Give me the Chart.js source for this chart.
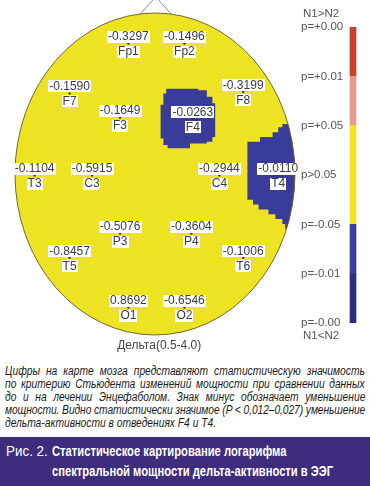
<!DOCTYPE html>
<html>
<head>
<meta charset="utf-8">
<script src="https://cdn.jsdelivr.net/npm/chart.js@4.4.0/dist/chart.umd.min.js"></script>
<style>
body { margin: 0; width: 370px; height: 486px; overflow: hidden; background: #fff; position: relative; }
#mapa { position: absolute; left: 0; top: 0; }
#escala { position: absolute; left: 290px; top: 0; }
#texto { position: absolute; left: 5px; top: 365px; width: 439px; color: #1a1a1a;
  transform: scaleX(0.82); transform-origin: 0 0;
  font: italic 12.5px/13px "Liberation Sans", Arial, sans-serif; }
#texto div { white-space: nowrap; }
#texto span { display: inline-block; }
#rotulo { position: absolute; left: 0; top: 437px; width: 370px; height: 49px; background: #3e2c7c; color: #fff;
  font: 15px/19px "Liberation Sans", Arial, sans-serif; }
#rotulo span { position: absolute; white-space: nowrap; transform-origin: 0 0; }
#rotulo .num { left: 6px; top: 4px; }
#rotulo .tit { left: 52px; font-weight: bold; }
</style>
</head>
<body>
<canvas id="mapa" width="370" height="356"></canvas>
<canvas id="escala" width="80" height="350"></canvas>
<div id="texto">
  <div><span>Цифры на карте мозга представляют статистическую значимость</span></div>
  <div><span>по критерию Стьюдента изменений мощности при сравнении данных</span></div>
  <div><span>до и на лечении Энцефаболом. Знак минус обозначает уменьшение</span></div>
  <div><span>мощности. Видно статистически значимое (P &lt; 0,012–0,027) уменьшение</span></div>
  <div><span>дельта-активности в отведениях F4 и T4.</span></div>
</div>
<div id="rotulo">
  <span class="num" id="num">Рис. 2.</span>
  <span class="tit" id="tit1" style="top:4px">Статистическое картирование логарифма</span>
  <span class="tit" id="tit2" style="top:24px">спектральной мощности дельта-активности в ЭЭГ</span>
</div>
<script>
// electrodos (coordenadas de cabeza, radio = 100)
const electrodos = ["Fp1", "Fp2", "F7", "F3", "F4", "F8", "T3", "C3", "C4", "T4", "P3", "P4", "T5", "T6", "O1", "O2"];
const valores = [-0.3297, -0.1496, -0.1590, -0.1649, -0.0263, -0.3199, -0.1104, -0.5915, -0.2944, -0.0110, -0.5076, -0.3604, -0.8457, -0.1006, 0.8692, -0.6546];
const posX = [-19, 21, -61, -25, 27, 63, -86, -45, 46, 88, -25, 26, -61, 63, -19, 21];
const posY = [81, 81, 50, 35, 34, 51, -1, -1, -1, -1, -37, -37, -52, -52, -83, -83];

// zonas significativas (p < 0.05, N1<N2)
const zonaF4X = [8, 31, 31, 37, 37, 41, 41, 43, 43, 41, 41, 37, 37, 25, 25, 9, 9, 6, 6, 4, 4, 6, 6, 8];
const zonaF4Y = [53, 53, 52, 52, 48, 48, 44, 44, 23, 23, 20, 20, 19, 19, 16, 16, 18, 18, 22, 22, 43, 43, 50, 50];
const zonaT4X = [110, 91, 91, 88, 88, 84, 84, 75, 75, 66, 66, 70, 70, 74, 74, 81, 81, 86, 86, 91, 91, 93, 93, 110];
const zonaT4Y = [31, 31, 29, 29, 26, 26, 23, 23, 20, 20, -16, -16, -19, -19, -22, -22, -25, -25, -28, -28, -31, -31, -34, -34];

const narizX = [-11, 0.5, 12];
const narizY = [99, 110, 99];

// escala de colores
const etiquetasP = ["p=-0.00", "p=-0.01", "p=-0.05", "p>0.05", "p=+0.05", "p=+0.01", "p=+0.00"];
const tramos = [1, 1, 2, 1, 1];
const coloresTramos = ["#2f2c7c", "#3b3f9c", "#f2e41e", "#e89a8c", "#c9402b"];

const AMARILLO = "#eee323";
const AZUL = "#393c98";

function puntos(xs, ys) {
    return xs.map((x, i) => ({ x: x, y: ys[i] }));
}

const cabeza = {
    id: "cabeza",
    beforeDatasetsDraw(chart) {
        const ctx = chart.ctx, sx = chart.scales.x, sy = chart.scales.y;
        const cx = sx.getPixelForValue(0), cy = sy.getPixelForValue(0);
        const rx = sx.getPixelForValue(100) - cx, ry = cy - sy.getPixelForValue(100);
        ctx.save();
        // nariz
        ctx.strokeStyle = "#8c8c84";
        ctx.lineWidth = 1;
        ctx.beginPath();
        narizX.forEach((x, i) => {
            const px = sx.getPixelForValue(x), py = sy.getPixelForValue(narizY[i]);
            if (i == 0) ctx.moveTo(px, py); else ctx.lineTo(px, py);
        });
        ctx.stroke();
        // cabeza
        ctx.beginPath();
        ctx.ellipse(cx, cy, rx, ry, 0, 0, Math.PI * 2);
        ctx.fillStyle = AMARILLO;
        ctx.fill();
        ctx.save();
        ctx.clip();
        ctx.fillStyle = AZUL;
        for (let d = 1; d < chart.data.datasets.length; d++) {
            const pts = chart.getDatasetMeta(d).data;
            ctx.beginPath();
            pts.forEach((p, i) => { if (i == 0) ctx.moveTo(p.x, p.y); else ctx.lineTo(p.x, p.y); });
            ctx.closePath();
            ctx.fill();
        }
        ctx.restore();
        ctx.beginPath();
        ctx.ellipse(cx, cy, rx, ry, 0, 0, Math.PI * 2);
        ctx.strokeStyle = "#6f6733";
        ctx.stroke();
        ctx.restore();
    },
    afterDatasetsDraw(chart) {
        const ctx = chart.ctx, sx = chart.scales.x, sy = chart.scales.y;
        const pts = chart.getDatasetMeta(0).data;
        ctx.save();
        ctx.font = "12px 'Liberation Sans', Arial, sans-serif";
        ctx.textAlign = "center";
        ctx.textBaseline = "middle";
        const caja = (txt, x, y) => {
            const w = ctx.measureText(txt).width;
            ctx.fillStyle = "#fff";
            ctx.fillRect(Math.round(x - w / 2 - 1), Math.round(y - 6), Math.round(w + 2), 12);
            ctx.fillStyle = "#3c3c3c";
            ctx.fillText(txt, x, y + 0.5);
        };
        pts.forEach((p, i) => {
            caja(valores[i].toFixed(4), p.x, p.y - 7);
            caja(electrodos[i], p.x, p.y + 8);
        });
        ctx.fillStyle = "#444";
        ctx.fillText("Дельта(0.5-4.0)", sx.getPixelForValue(3), sy.getPixelForValue(-100) + 11);
        ctx.restore();
    }
};

new Chart("mapa", {
    type: "scatter",
    data: {
        datasets: [
            { data: puntos(posX, posY), pointRadius: 1.2, backgroundColor: "#333", borderWidth: 0 },
            { data: puntos(zonaF4X, zonaF4Y), pointRadius: 0, borderWidth: 0 },
            { data: puntos(zonaT4X, zonaT4Y), pointRadius: 0, borderWidth: 0 }
        ]
    },
    options: {
        responsive: false,
        animation: false,
        layout: { padding: 0, autoPadding: false },
        plugins: { legend: { display: false }, tooltip: { enabled: false } },
        scales: {
            x: { type: "linear", display: false, min: -110.71, max: 153.57 },
            y: { type: "linear", display: false, min: -113.05, max: 108.07 }
        }
    },
    plugins: [cabeza]
});

const textosEscala = {
    id: "textosEscala",
    afterDraw(chart) {
        const ctx = chart.ctx, sy = chart.scales.y;
        ctx.save();
        ctx.font = "11.5px 'Liberation Sans', Arial, sans-serif";
        ctx.fillStyle = "#555";
        ctx.textAlign = "left";
        ctx.textBaseline = "middle";
        ctx.fillText("N1>N2", sy.left + 2, sy.top - 13);
        ctx.fillText("N1<N2", sy.left + 2, sy.bottom + 13);
        ctx.restore();
    }
};

new Chart("escala", {
    type: "bar",
    data: {
        labels: [""],
        datasets: tramos.map((v, i) => ({ data: [v], backgroundColor: coloresTramos[i], borderWidth: 0, barThickness: 6 }))
    },
    options: {
        responsive: false,
        animation: false,
        layout: { padding: { left: 11, right: 11, top: 27, bottom: 27 }, autoPadding: false },
        plugins: { legend: { display: false }, tooltip: { enabled: false } },
        scales: {
            x: { stacked: true, display: false },
            y: {
                stacked: true, min: 0, max: 6,
                grid: { display: false, drawTicks: false },
                border: { display: false },
                afterFit(scale) { scale.width = 46; },
                ticks: {
                    stepSize: 1, crossAlign: "far", padding: 0, color: "#555",
                    font: { family: "'Liberation Sans', Arial, sans-serif", size: 11.5 },
                    callback: (v) => etiquetasP[v]
                }
            }
        }
    },
    plugins: [textosEscala]
});

// justificar las lineas del texto a mano
const ANCHO = 439;
const lineas = document.querySelectorAll("#texto span");
lineas.forEach((span, i) => {
    const w = span.offsetWidth;
    if (i == lineas.length - 1 && w <= ANCHO) return;
    const espacios = (span.textContent.match(/ /g) || []).length;
    if (w <= ANCHO) span.style.wordSpacing = ((ANCHO - w) / espacios) + "px";
    else span.style.letterSpacing = ((ANCHO - w) / span.textContent.length) + "px";
});

// ajustar ancho del pie de figura
const t1 = document.getElementById("tit1"), t2 = document.getElementById("tit2"), num = document.getElementById("num");
const escalaTit = 281 / t2.offsetWidth;
t1.style.transform = t2.style.transform = `scaleX(${escalaTit})`;
num.style.transform = `scaleX(${42 / num.offsetWidth})`;
</script>
</body>
</html>
